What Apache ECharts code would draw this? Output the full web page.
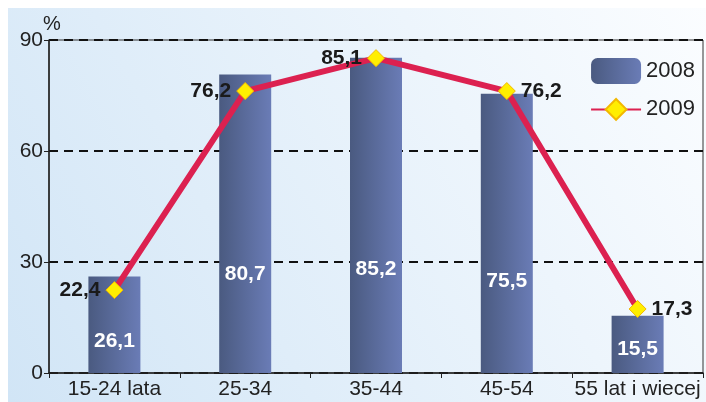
<!DOCTYPE html>
<html><head><meta charset="utf-8">
<script src="https://cdn.jsdelivr.net/npm/echarts@6/dist/echarts.min.js"></script>
<style>html,body{margin:0;padding:0;background:#fff}#c{width:706px;height:402px}</style>
</head><body><div id="c"></div>
<script>
const categories = ['15-24 lata', '25-34', '35-44', '45-54', '55 lat i wiecej'];
const values2008 = [26.1, 80.7, 85.2, 75.5, 15.5];
const values2009 = [22.4, 76.2, 85.1, 76.2, 17.3];
const yTicks = [0, 30, 60, 90];
const lineLabelSides = ['left', 'left', 'left', 'right', 'right'];

const chart = echarts.init(document.getElementById('c'), null, {renderer: 'canvas'});
const font = '"Liberation Sans", Arial, sans-serif';

chart.setOption({
  animation: false,
  graphic: [{
    type: 'rect', z: -10, silent: true,
    shape: {x: 8, y: 8, width: 698, height: 394},
    style: {fill: new echarts.graphic.LinearGradient(0, 1, 1, 0, [
      {offset: 0, color: '#d1e5f6'}, {offset: 1, color: '#fbfdff'}])}
  }, {
    type: 'text', left: 43, top: 14,
    style: {text: '%', font: '20px ' + font, fill: '#222'}
  }],
  grid: {left: 49, right: 3, top: 40, bottom: 29, show: true, borderColor: '#333', borderWidth: 1, backgroundColor: 'transparent'},
  legend: {
    right: 6, top: 53, orient: 'vertical', itemGap: 14,
    itemWidth: 50, itemHeight: 26,
    textStyle: {fontFamily: font, fontSize: 22, color: '#222'},
    data: ['2008', '2009']
  },
  xAxis: {
    type: 'category', data: categories,
    axisLine: {lineStyle: {color: '#222', width: 1.5}},
    axisTick: {show: true, length: 5, lineStyle: {color: '#222'}},
    axisLabel: {fontFamily: font, fontSize: 21, color: '#222', margin: 6, interval: 0}
  },
  yAxis: {
    type: 'value', min: 0, max: 90, interval: 30,
    axisLine: {show: true, lineStyle: {color: '#222', width: 1.5}},
    axisTick: {show: true, length: 5, lineStyle: {color: '#222'}},
    axisLabel: {fontFamily: font, fontSize: 21, color: '#222', margin: 6,
      formatter: v => yTicks.includes(v) ? String(v) : ''},
    splitLine: {show: true, lineStyle: {color: '#111', type: [9, 6], width: 1.8}}
  },
  series: [{
    name: '2008', type: 'bar', barWidth: 52,
    itemStyle: {color: new echarts.graphic.LinearGradient(0, 0, 1, 0, [
      {offset: 0, color: '#4a5a80'}, {offset: 1, color: '#6a7cb6'}])},
    label: {show: true, position: ['50%', '67%'], align: 'center', verticalAlign: 'middle',
      color: '#fff', fontFamily: font, fontWeight: 'bold', fontSize: 21,
      formatter: p => String(p.value).replace('.', ',')},
    data: values2008.map((v, i) => i === 4 ? {value: v, label: {position: ['50%', '58%']}} : v)
  }, {
    name: '2009', type: 'line',
    lineStyle: {color: '#dc2150', width: 6},
    itemStyle: {color: '#ffee00', borderColor: '#f2b800', borderWidth: 1},
    symbol: 'diamond', symbolSize: 17,
    label: {show: true, color: '#1a1a1a', fontFamily: font, fontWeight: 'bold', fontSize: 21,
      formatter: p => String(p.value).replace('.', ',')},
    data: values2009.map((v, i) => ({value: v, label: {position: lineLabelSides[i], distance: 5}})),
    z: 5
  }]
});
</script></body></html>
